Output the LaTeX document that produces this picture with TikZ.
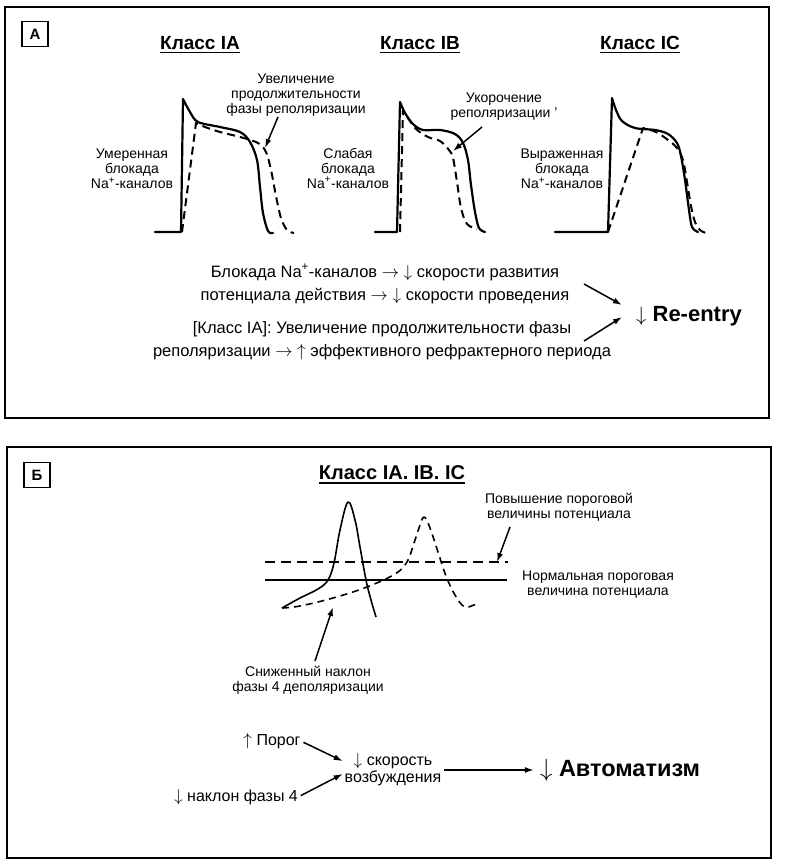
\documentclass[tikz,border=0pt]{standalone}
\usepackage{fontspec}
\setmainfont{Liberation Sans}
\usetikzlibrary{arrows.meta}
\usetikzlibrary{positioning}

\begin{document}
\begin{tikzpicture}[
  x=1pt, y=-1pt,
  panel/.style={draw, line width=2pt},
  tag/.style={draw, line width=1.5pt, minimum width=26pt, minimum height=25pt,
    inner sep=0pt, font=\fontsize{15}{16}\selectfont\bfseries},
  title/.style={inner sep=0pt, font=\fontsize{19}{21}\selectfont\bfseries},
  label/.style={inner sep=0pt, align=center, font=\fontsize{14}{15}\selectfont},
  chain/.style={inner sep=0pt, align=center, font=\fontsize{16.5}{23}\selectfont},
  cause/.style={inner sep=0pt, align=center, font=\fontsize{16}{17}\selectfont},
  result/.style={inner sep=0pt, font=\fontsize{22}{24}\selectfont\bfseries},
  ap/.style={line width=2.2pt, line join=round, line cap=round},
  apdash/.style={line width=2pt, line join=round, dash pattern=on 8pt off 5pt},
  thin ap/.style={line width=1.6pt, line join=round},
  thin apdash/.style={line width=1.6pt, line join=round, dash pattern=on 7pt off 5pt},
  arrow/.style={-{Latex[length=9pt, width=6pt]}, line width=1.5pt},
  underline/.style={line width=1.5pt},
]
\useasboundingbox (0,0) rectangle (802,867);

% === Panel A ===
\draw[panel] (5,7) rectangle (769,418);
\node[tag] (tagA) at (35,34) {А};

\node[title] (tIA) at (200,43) {Класс IA};
\node[title] (tIB) at (420,43) {Класс IB};
\node[title] (tIC) at (640,43) {Класс IC};
\foreach \t in {tIA, tIB, tIC}
  \draw[underline] ([yshift=-3pt]\t.base west) -- ([yshift=-3pt]\t.base east);

% class IA curves
\draw[ap] (155,232) -- (181,232) -- (183,99)
  -- plot[smooth, tension=0.55] coordinates {(183,99) (190,112) (198,122) (220,127)
     (240,132) (250,142) (257,160) (260,187) (263,213) (268,231) (273,233)};
\draw[apdash] (182,232) -- (196,123)
  -- plot[smooth, tension=0.55] coordinates {(196,123) (205,127) (220,132) (240,137)
     (258,143) (266,152) (271,170) (276,196) (281,218) (287,230) (294,233)};
\node[label] (umer) at (132,169) {Умеренная\\блокада\\Na\textsuperscript{+}-каналов};
\node[label] (uvel) at (296,95) {Увеличение\\продолжительности\\фазы реполяризации};
\coordinate (uvelFrom) at (278,117);
\coordinate (uvelTo) at (265,148);
\draw[arrow] (uvelFrom) -- (uvelTo);

% class IB curves
\draw[ap] (375,232) -- (397,232) -- (400,102)
  -- plot[smooth, tension=0.55] coordinates {(400,102) (405,113) (413,124) (423,130)
     (440,130) (455,134) (463,143) (468,160) (471,185) (475,212) (479,228) (485,232)};
\draw[apdash] (400,232) -- (403,110)
  -- plot[smooth, tension=0.55] coordinates {(403,110) (415,128) (428,137) (440,141)
     (449,150) (453,158) (457,182) (461,208) (467,224) (477,229)};
\node[label] (slab) at (348,168) {Слабая\\блокада\\Na\textsuperscript{+}-каналов};
\node[label] (ukor) at (504,107) {Укорочение\\реполяризации ’};
\coordinate (ukorFrom) at (482,127);
\coordinate (ukorTo) at (453,151);
\draw[arrow] (ukorFrom) -- (ukorTo);

% class IC curves
\draw[ap] (555,232) -- (608,232) -- (612,98)
  -- plot[smooth, tension=0.55] coordinates {(612,98) (616,110) (622,121) (635,128)
     (655,130) (668,134) (677,143) (681,156) (685,180) (689,210) (692,227) (698,232)};
\draw[apdash] (608,232) -- (643,128)
  -- plot[smooth, tension=0.55] coordinates {(643,128) (656,132) (668,140) (677,148)
     (683,160) (687,182) (691,206) (695,222) (700,230) (706,233)};
\node[label] (vyr) at (562,169) {Выраженная\\блокада\\Na\textsuperscript{+}-каналов};

% mechanism chain
\node[chain] (block) at (385,284) {Блокада Na\textsuperscript{+}-каналов $\rightarrow$ $\downarrow$ скорости развития\\потенциала действия $\rightarrow$ $\downarrow$ скорости проведения};
\node[chain] (refr) at (382,341) {[Класс IA]: Увеличение продолжительности фазы\\реполяризации $\rightarrow$ $\uparrow$ эффективного рефрактерного периода};
\node[result] (reentry) at (689,316) {$\downarrow$ Re-entry};
\coordinate (blockFrom) at (584,284);
\coordinate (blockTo) at (622,305);
\coordinate (refrFrom) at (584,341);
\coordinate (refrTo) at (622,317);
\draw[arrow] (blockFrom) -- (blockTo);
\draw[arrow] (refrFrom) -- (refrTo);

% === Panel B ===
\draw[panel] (7,447) rectangle (771,858);
\node[tag] (tagB) at (37,475) {Б};
\node[title, font=\fontsize{20}{22}\selectfont\bfseries] (tAll) at (392,473) {Класс IA. IB. IC};
\draw[underline] ([yshift=-3pt]tAll.base west) -- ([yshift=-3pt]tAll.base east);

% thresholds
\draw[thin apdash, dash pattern=on 10pt off 6pt] (265,562) -- (508,562);
\draw[thin ap] (265,580) -- (507,580);
\node[label] (raise) at (559,507) {Повышение пороговой\\величины потенциала};
\node[label] (normal) at (598,585) {Нормальная пороговая\\величина потенциала};
\coordinate (raiseFrom) at (510,527);
\coordinate (raiseTo) at (497,562);
\draw[arrow] (raiseFrom) -- (raiseTo);

% action potentials
\draw[thin ap] plot[smooth, tension=0.6] coordinates {(282,608) (300,598) (318,589)
  (328,580) (334,563) (340,530) (348,502) (355,520) (360,547) (366,580) (371,600) (376,617)};
\draw[thin apdash] plot[smooth, tension=0.6] coordinates {(282,608) (300,606) (333,598)
  (367,587) (395,574) (407,562) (414,543) (419,528) (424,517) (430,528) (438,552)
  (446,576) (455,595) (465,607) (478,603)};
\node[label] (slope) at (308,680) {Сниженный наклон\\фазы 4 деполяризации};
\coordinate (slopeFrom) at (315,661);
\coordinate (slopeTo) at (333,607);
\draw[arrow] (slopeFrom) -- (slopeTo);

% automatism chain
\node[cause] (porog) at (272,741) {$\uparrow$ Порог};
\node[cause] (naklon) at (236,797) {$\downarrow$ наклон фазы 4};
\node[cause] (skor) at (393,770) {$\downarrow$ скорость\\возбуждения};
\node[result, font=\fontsize{23.5}{25}\selectfont\bfseries] (avto) at (620,770) {$\downarrow$ Автоматизм};
\draw[arrow, shorten <=3pt, shorten >=2pt] (porog.east) -- ([yshift=8pt]skor.west);
\draw[arrow, shorten <=3pt, shorten >=2pt] (naklon.east) -- ([yshift=-3pt]skor.west);
\draw[arrow, shorten <=3pt, shorten >=6pt] (skor.east) -- (skor.east -| avto.west);
\end{tikzpicture}
\end{document}
